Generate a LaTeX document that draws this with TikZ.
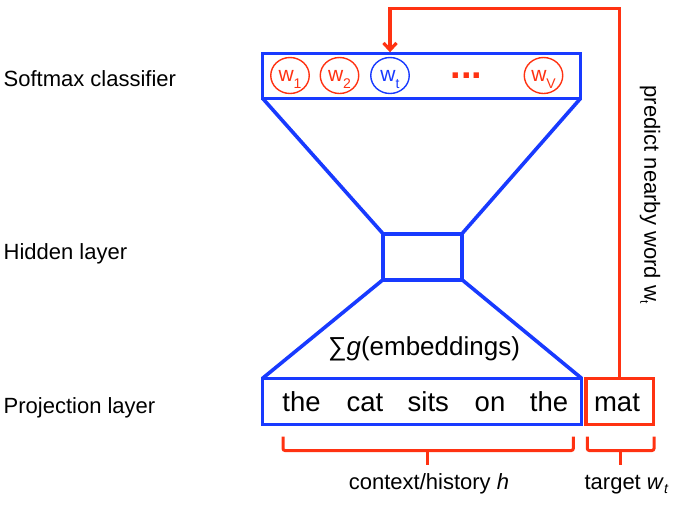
\documentclass[tikz,border=0pt]{standalone}
\usepackage{fontspec}
\setmainfont{Liberation Sans}
\usetikzlibrary{arrows.meta,shapes.geometric}
\definecolor{nnblue}{RGB}{24,58,255}
\definecolor{nnred}{RGB}{255,50,18}
\newcommand{\wsub}[1]{\smash{\raisebox{-7pt}{\fontsize{14}{14}\selectfont #1}}}
\newcommand{\wsubsmall}[1]{\raisebox{-0.35ex}{\fontsize{12}{12}\selectfont #1}}
\begin{document}
\begin{tikzpicture}[x=1pt,y=-1pt,
  lbl/.style={font=\fontsize{22}{24}\selectfont, inner sep=0pt, anchor=base west},
  word/.style={font=\fontsize{27.5}{30}\selectfont, inner sep=0pt, anchor=base},
  small/.style={font=\fontsize{22}{24}\selectfont, inner sep=0pt, anchor=base},
  bluebox/.style={draw=nnblue, line width=3.6pt, inner sep=0pt, outer sep=0pt, line join=miter},
  redbox/.style={draw=nnred, line width=3.3pt, inner sep=0pt, outer sep=0pt},
  blueline/.style={draw=nnblue, line width=3.6pt},
  redline/.style={draw=nnred, line width=3.2pt},
  wcirc/.style={ellipse, draw=#1, text=#1, line width=1.4pt, minimum width=38.5pt, minimum height=36pt, inner sep=0pt,
    font=\fontsize{21}{22}\selectfont},
  bracket/.style={draw=nnred, line width=3pt, rounded corners=2pt}
]
\useasboundingbox (0,0) rectangle (675,504);

% layer labels
\node[lbl] (lsoft) at (3.5,86) {Softmax classifier};
\node[lbl] (lhid) at (3.5,259.3) {Hidden layer};
\node[lbl] (lproj) at (3.5,413) {Projection layer};

% boxes
\node[bluebox, minimum width=318pt, minimum height=45pt] (soft) at (421.6,75.8) {};
\node[bluebox, minimum width=79pt, minimum height=46pt] (hid) at (422.5,256.7) {};
\node[bluebox, minimum width=319pt, minimum height=46pt] (proj) at (422.1,401.3) {};
\node[redbox, minimum width=67.3pt, minimum height=46pt] (mat) at (619.7,401.3) {};

% trapezoid sides
\draw[blueline] (soft.south west) -- (hid.north west);
\draw[blueline] (soft.south east) -- (hid.north east);
\draw[blueline] (hid.south west) -- (proj.north west);
\draw[blueline] (hid.south east) -- (proj.north east);

% softmax units
\node[wcirc=nnred] (w1) at (290,75.5) {w\wsub{1}};
\node[wcirc=nnred] (w2) at (339.5,75.5) {w\wsub{2}};
\node[wcirc=nnblue] (wt) at (390,75.5) {w\wsub{t}};
\node[text=nnred, inner sep=0pt, font=\fontsize{38}{40}\selectfont\bfseries] (dots) at (466.5,76) {...};
\node[wcirc=nnred] (wV) at (543.5,75.5) {w\wsub{V}};

% words
\node[word] (t1) at (301.5,411.7) {the};
\node[word] (t2) at (365,411.7) {cat};
\node[word] (t3) at (428.3,411.7) {sits};
\node[word] (t4) at (490,411.7) {on};
\node[word] (t5) at (549,411.7) {the};
\node[word] (tm) at (617,411.7) {mat};

\node[inner sep=0pt, anchor=base, font=\fontsize{26}{28}\selectfont] (emb) at (424,355) {∑\textit{g}(embeddings)};

% prediction arrow
\coordinate (turn) at (619.7,8.3);
\draw[redline, -{Straight Barb[length=7pt,width=13pt]}, shorten >=1pt]
  (mat.north) -- (turn) -| (wt.north |- soft.north);

\node[small, anchor=center, rotate=-90] (pred) at (650,195) {predict nearby word w\wsubsmall{t}};

% brackets
\coordinate (cl) at (283,436.5);
\coordinate (cr) at (573.3,436.5);
\coordinate (cc) at (427.5,450.5);
\draw[bracket] (cl) -- (cl |- cc) -- (cr |- cc) -- (cr);
\draw[draw=nnred, line width=3pt] (cc) -- ++(0,14.5);
\coordinate (gl) at (587.3,436.5);
\coordinate (gr) at (654,436.5);
\coordinate (gc) at (620,450.5);
\draw[bracket] (gl) -- (gl |- gc) -- (gr |- gc) -- (gr);
\draw[draw=nnred, line width=3pt] (gc) -- ++(0,14.5);

\node[small] (ctx) at (429,489.5) {context/history \textit{h}};
\node[small] (tgt) at (626.5,489.5) {target \textit{w}\raisebox{-0.35ex}{\fontsize{14}{14}\selectfont\textit{t}}};
\end{tikzpicture}
\end{document}
